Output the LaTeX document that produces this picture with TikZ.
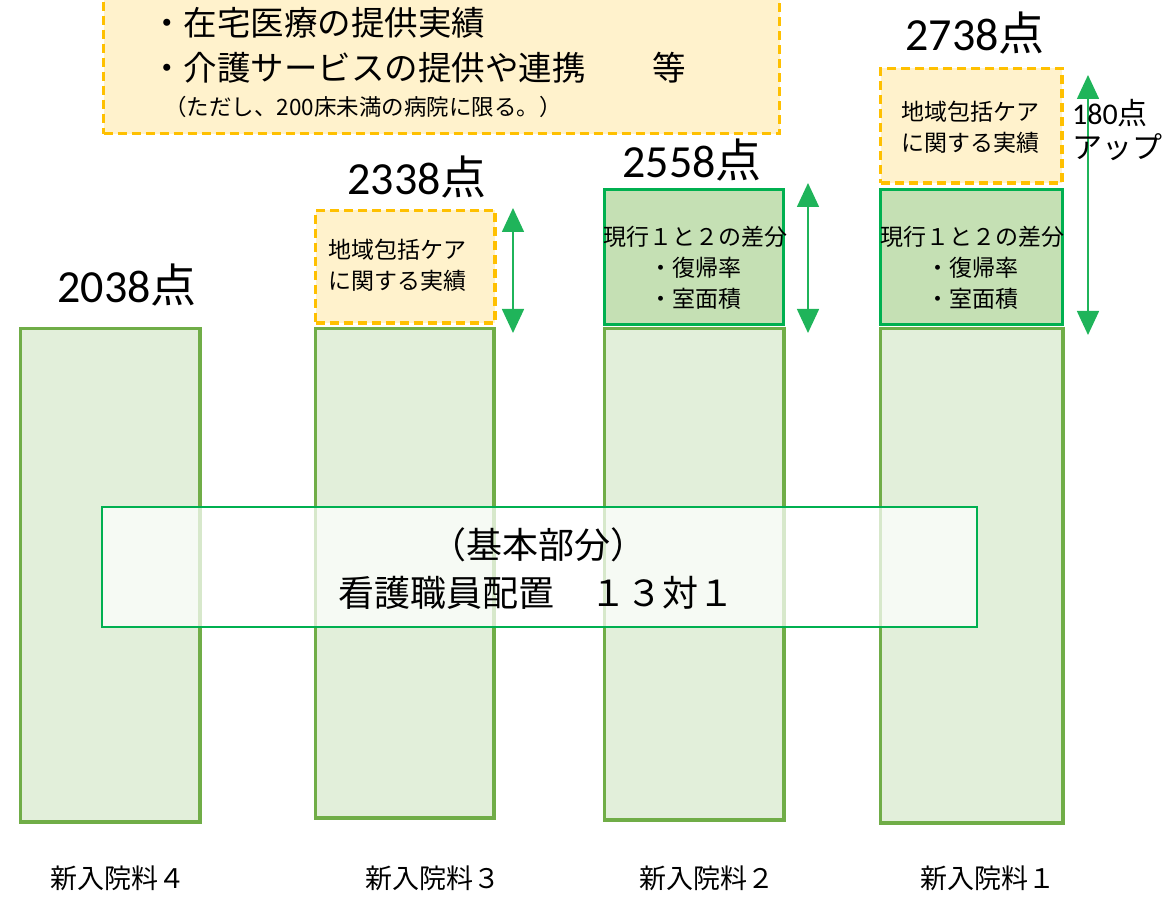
\documentclass[tikz,border=0pt]{standalone}
\usepackage{fontspec}
\newfontfamily\jp{Noto Sans CJK JP}
\newfontfamily\num{Carlito}
\usetikzlibrary{arrows.meta}
\definecolor{barfill}{HTML}{E2EFDA}
\definecolor{barline}{HTML}{70AD47}
\definecolor{gfill}{HTML}{C5E0B4}
\definecolor{gline}{HTML}{00B050}
\definecolor{arrcol}{HTML}{1FB45A}
\definecolor{ofill}{HTML}{FFF2CC}
\definecolor{oline}{HTML}{FFC000}
\begin{document}
\begin{tikzpicture}[x=1pt,y=-1pt,
  bar/.style={draw=barline, fill=barfill, line width=3.5pt, anchor=north west, inner sep=0pt},
  gbox/.style={draw=gline, fill=gfill, line width=3pt, anchor=north west, inner sep=0pt},
  obox/.style={draw=oline, fill=ofill, line width=3.5pt, dash pattern=on 9pt off 5pt, anchor=north west, inner sep=0pt},
  dbl/.style={draw=arrcol, line width=1.6pt, {Triangle[width=22pt,length=24pt]}-{Triangle[width=22pt,length=24pt]}},
  big/.style={font=\fontsize{46}{50}\selectfont, inner sep=0pt},
  boxtxt/.style={font=\jp\fontsize{23}{31}\selectfont, align=center, inner sep=0pt},
  lbl/.style={font=\jp\fontsize{27}{30}\selectfont, inner sep=0pt},
]
\useasboundingbox (0,0) rectangle (1163,901);
\clip (0,0) rectangle (1163,901);

% top box
\node[obox, minimum width=676pt, minimum height=160pt] (top) at (101.75,-28) {};
\node[anchor=west, inner sep=0pt, font=\jp\fontsize{33.5}{40}\selectfont] (t1) at (150,23) {・在宅医療の提供実績};
\node[anchor=west, inner sep=0pt, font=\jp\fontsize{33.5}{40}\selectfont] (t2) at (150,68) {・介護サービスの提供や連携　　等};
\node[anchor=west, inner sep=0pt, font=\jp\fontsize{22.5}{26}\selectfont] (t3) at (164,107) {（ただし、200床未満の病院に限る。）};

% bars
\node[bar, minimum width=179.5pt, minimum height=493.5pt] (b4) at (18.75,326.75) {};
\node[bar, minimum width=178.5pt, minimum height=489.5pt] (b3) at (313.75,326.75) {};
\node[bar, minimum width=179.5pt, minimum height=491.5pt] (b2) at (602.75,326.75) {};
\node[bar, minimum width=182.5pt, minimum height=494.5pt] (b1) at (878.75,326.75) {};

% upper boxes
\node[obox, minimum width=179.5pt, minimum height=112.5pt] (o3) at (313.75,208.75) {};
\node[gbox, minimum width=179pt, minimum height=135pt] (g2) at (602.5,188.5) {};
\node[gbox, minimum width=182pt, minimum height=135pt] (g1) at (878.5,188.5) {};
\node[obox, minimum width=181.5pt, minimum height=114.5pt] (o1) at (878.75,66.75) {};

% base box
\node[draw=gline, line width=2pt, fill=white, fill opacity=0.72, anchor=north west,
      minimum width=875pt, minimum height=120pt, inner sep=0pt] (base) at (101,506) {};

% arrows
\coordinate (a3t) at (513,208); \coordinate (a3b) at (513,333);
\coordinate (a2t) at (808,183); \coordinate (a2b) at (808,333);
\coordinate (a1t) at (1088,75); \coordinate (a1b) at (1088,335);
\draw[dbl] (a3t) -- (a3b);
\draw[dbl] (a2t) -- (a2b);
\draw[dbl] (a1t) -- (a1b);

% box texts
\node[boxtxt] (o3t) at (397,265.5) {地域包括ケア\\に関する実績};
\node[boxtxt] (o1t) at (970,127.5) {地域包括ケア\\に関する実績};
\node[boxtxt] (g2t) at (695,267.5) {現行１と２の差分\\・復帰率\\・室面積};
\node[boxtxt] (g1t) at (972,267.5) {現行１と２の差分\\・復帰率\\・室面積};

% base texts
\node[inner sep=0pt, font=\jp\fontsize{36}{40}\selectfont] (bt1) at (538,545) {（基本部分）};
\node[inner sep=0pt, font=\jp\fontsize{36}{40}\selectfont] (bt2) at (536,593) {看護職員配置　１３対１};

% scores
\node[big] (s4) at (127,285) {\num 2038\jp 点};
\node[big] (s3) at (417,177) {\num 2338\jp 点};
\node[big] (s2) at (692,160) {\num 2558\jp 点};
\node[big] (s1) at (975,33) {\num 2738\jp 点};
\node[anchor=west, inner sep=0pt, font=\fontsize{30}{34}\selectfont] (up1) at (1072,113) {\num 180\jp 点};
\node[anchor=west, inner sep=0pt, font=\jp\fontsize{30}{34}\selectfont] (up2) at (1072,147) {アップ};

% bottom labels
\node[lbl] (l4) at (118,878) {新入院料４};
\node[lbl] (l3) at (433,878) {新入院料３};
\node[lbl] (l2) at (707,878) {新入院料２};
\node[lbl] (l1) at (988,878) {新入院料１};
\end{tikzpicture}
\end{document}
